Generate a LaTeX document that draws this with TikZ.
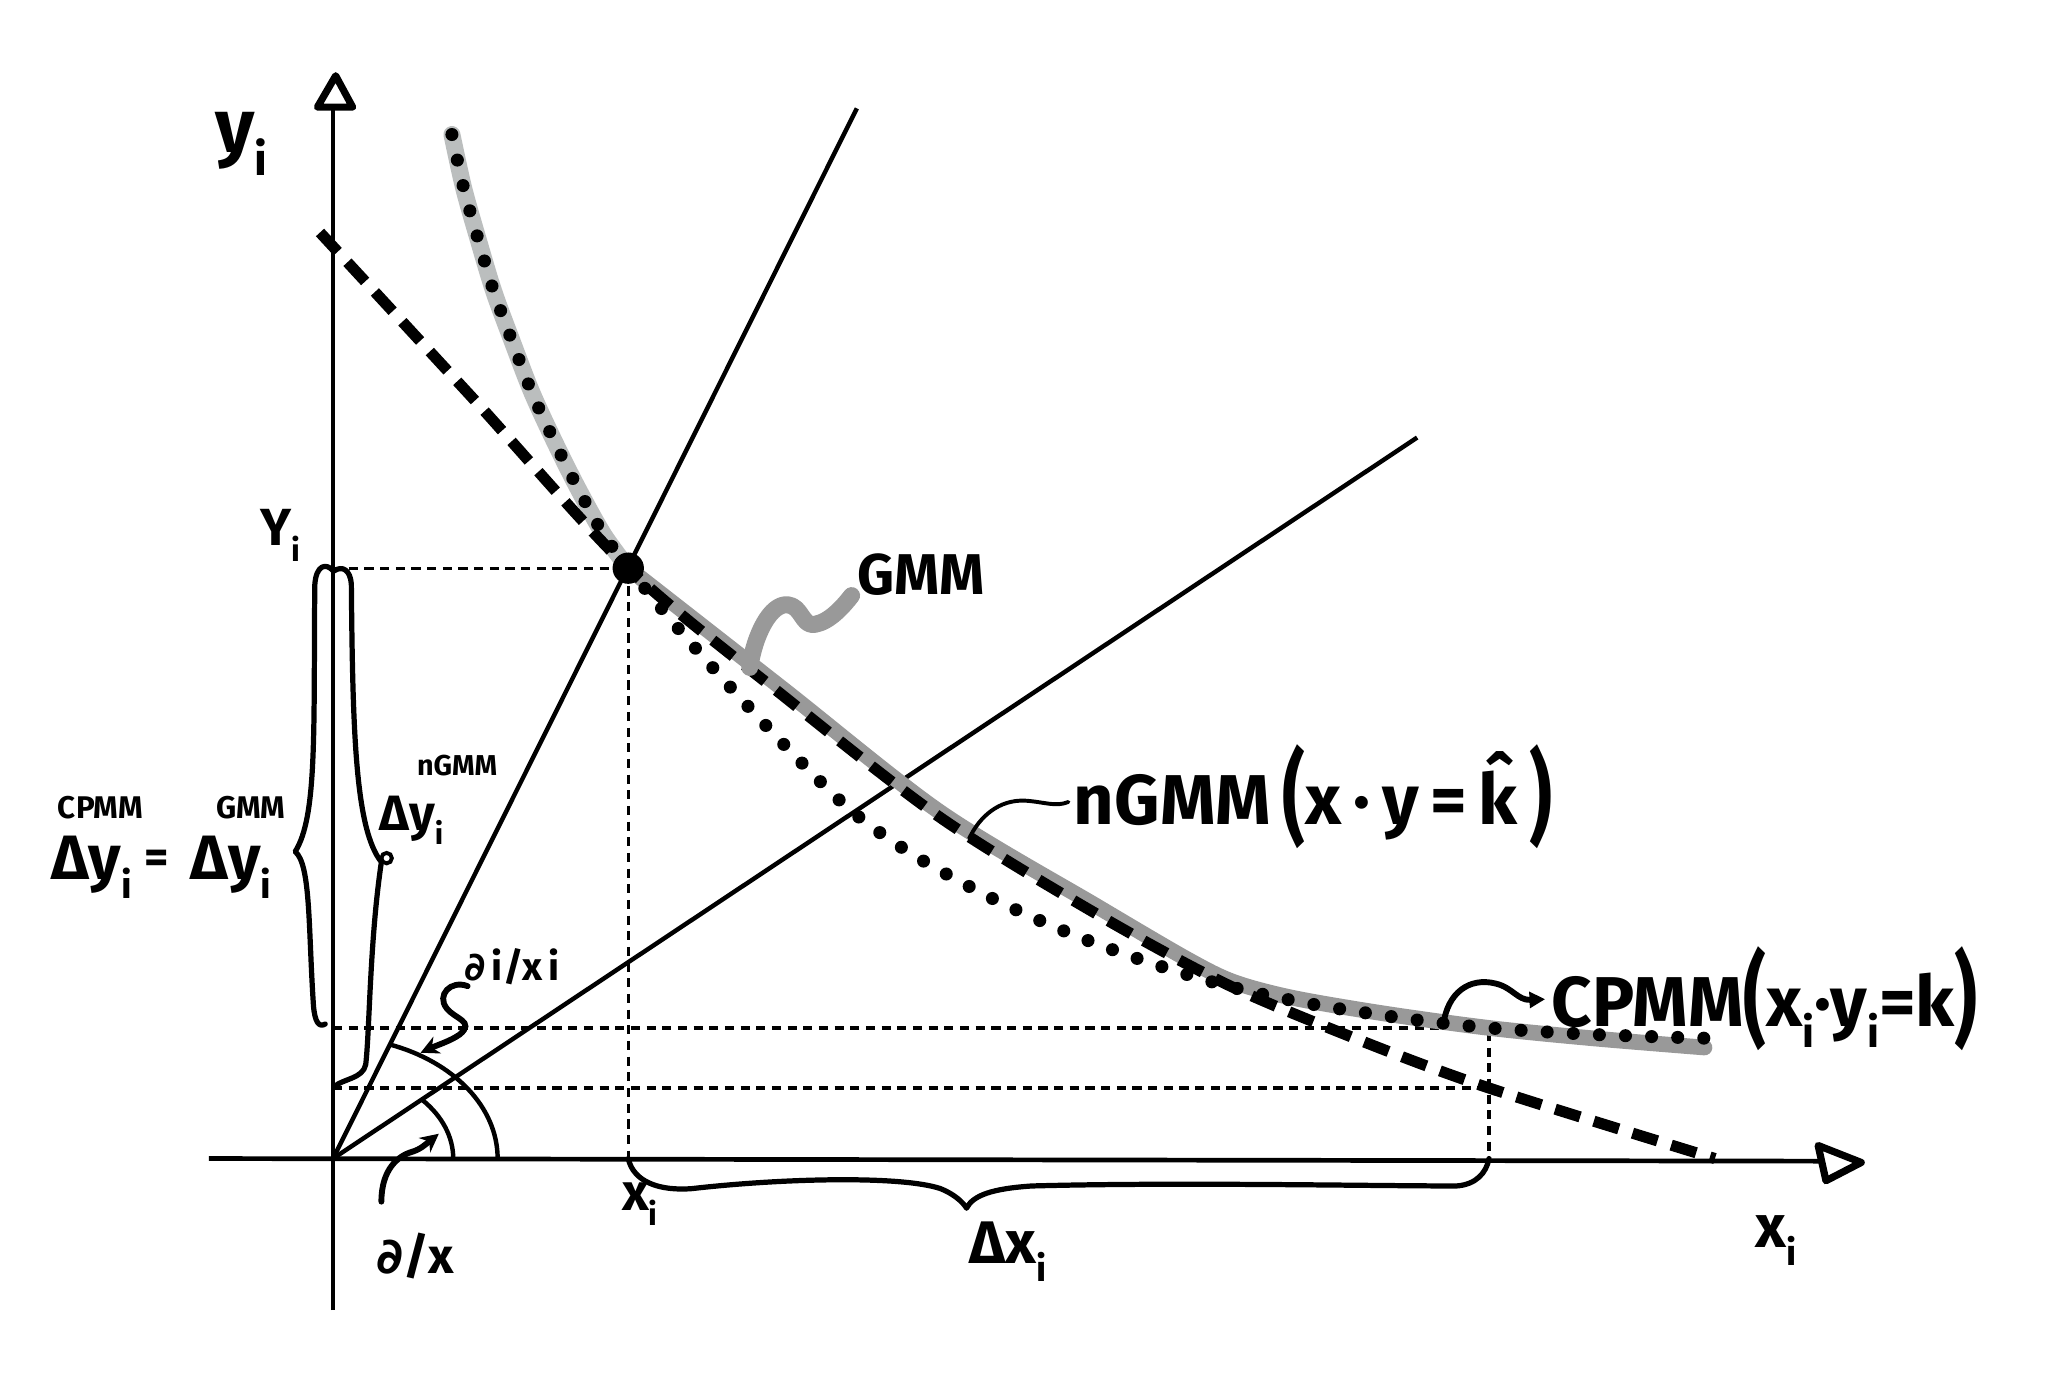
\documentclass[tikz,border=0pt]{standalone}
\usepackage{fontspec}
\setmainfont{Fira Sans}
\newfontfamily\symf{DejaVu Sans}
\usetikzlibrary{arrows.meta,calc}
\definecolor{lgray}{HTML}{BBBEBE}
\definecolor{dgray}{HTML}{999999}
\newcommand\mysub[1]{\raisebox{-0.3em}{\scalebox{0.6}{#1}}}
\newcommand\tallp[1]{\raisebox{-0.12em}{\scalebox{1}[1.45]{#1}}}
\newcommand\myfs[1]{\fontsize{#1}{#1}\selectfont}
\begin{document}
\begin{tikzpicture}[x=1pt,y=-1pt,
  axis/.style={line width=3.6pt},
  ray/.style={line width=3.4pt},
  guide/.style={line width=2.4pt, dash pattern=on 7pt off 5pt},
  nline/.style={line width=8.5pt, dash pattern=on 20pt off 11pt},
  dots/.style={line width=10pt, line cap=round, dash pattern=on 0pt off 20pt},
  band/.style={line width=13pt, line cap=round, line join=round},
  brace/.style={line width=4pt, line cap=round, line join=round},
  head/.style={line width=5.5pt, line join=round, line cap=round},
  lbl/.style={inner sep=0pt, font=\bfseries},
]
\fill[white] (0,0) rectangle (1568,1060);
\useasboundingbox (0,0) rectangle (1568,1060);
% key points
\coordinate (O) at (255,887);
\coordinate (P) at (481,435);
\coordinate (Ybot) at (255,1003);
\coordinate (Ytop) at (255,82);
\coordinate (Xl) at (160,887);
\coordinate (Xr) at (1393,889);
\coordinate (L1) at (656,83);
\coordinate (L2) at (1085,335);
\coordinate (YP) at (255,435);
\coordinate (XP) at (481,887);
\coordinate (C1) at (255,787);
\coordinate (C2) at (255,833);
\coordinate (Q1) at (1140,787);
\coordinate (Q2) at (1140,833);
\coordinate (XQ) at (1140,887);
% axes
\draw[axis] (Ybot) -- (Ytop);
\draw[head] (243,82) -- (257,58) -- (270,82) -- cycle;
\draw[axis] (Xl) -- (Xr);
\draw[head] (1392,877) -- (1425,890) -- (1398,904) -- cycle;
% rays
\draw[ray] (O) -- (L1);
\draw[ray] (O) -- (L2);
% guide lines
\draw[guide] (YP) -- (P) -- (XP);
\draw[guide] (C1) -- (Q1) -- (XQ);
\draw[guide] (C2) -- (Q2);
% highlighted GMM band
\draw[band, lgray] plot[smooth] coordinates {(346,103) (355,144) (366,183) (378,223) (392,261) (407,300) (424,337) (442,373) (462,409) (481,435)};
\draw[band, dgray, line width=12pt] plot[smooth] coordinates {(481,435) (600,528) (720,622) (840,694) (910,735) (945,752) (990,764) (1060,776) (1140,787) (1220,795) (1305,802)};
% nGMM dashed curve
\draw[nline] plot[smooth] coordinates {(245,178) (363,306) (481,435) (600,533) (720,626) (840,700) (940,754) (1040,796) (1140,833) (1313,887)};
% CPMM dotted curve
\draw[dots] plot[smooth] coordinates {(346,103) (355,144) (366,183) (378,223) (392,261) (407,300) (424,337) (442,373) (462,409) (481,435)};
\draw[dots] plot[smooth] coordinates {(481,435) (520,482) (560,527) (605,575) (652,621) (700,655) (760,688) (820,715) (880,737) (940,755) (1000,768) (1070,779) (1140,787) (1220,792) (1310,795)};
% point
\fill (P) circle (12);
% angle arcs
\draw[ray] ($(O)+(92,0)$) arc[start angle=0, end angle=-42, x radius=92, y radius=67];
\draw[ray] ($(O)+(126,0)$) arc[start angle=0, end angle=-70, x radius=126, y radius=93];
% braces
\draw[brace] (255,437) .. controls (250,431) and (242,432) .. (241,448) .. controls (240,560) and (243,625) .. (226,652) .. controls (238,662) and (236,710) .. (240,770) .. controls (241,782) and (244,787) .. (249,784);
\draw[brace] (256,437) .. controls (262,433) and (268,436) .. (269,447) .. controls (270,560) and (272,635) .. (292,660) .. controls (283,720) and (283,790) .. (280,815) .. controls (278,826) and (262,826) .. (256,832);
\draw[line width=3pt] (296,657) circle (4);
\draw[brace] (XP) .. controls (485,905) and (505,912) .. (530,910) .. controls (600,902) and (690,900) .. (720,910) .. controls (730,914) and (737,920) .. (740,925) .. controls (745,915) and (760,910) .. (790,908) .. controls (900,905) and (1050,908) .. (1115,908) .. controls (1130,907) and (1138,898) .. (XQ);
% labels
\node[lbl, font=\bfseries\myfs{58}] (lyi) at (185,110) {y\mysub{i}};
\node[lbl, font=\bfseries\myfs{46}] (lxi) at (1360,950) {x\mysub{i}};
\node[lbl, font=\bfseries\myfs{40}] (lYi) at (215,410) {Y\mysub{i}};
\node[lbl, font=\bfseries\myfs{40}] (lxP) at (490,922) {x\mysub{i}};
\node[lbl, font=\bfseries\myfs{46}] (ldx) at (772,958) {Δx\mysub{i}};
\node[lbl, font=\bfseries\myfs{48}] (ldyC) at (70,664) {Δy\mysub{i}};
\node[lbl, font=\bfseries\myfs{24}] (supC) at (77,618) {CPMM};
\node[lbl, font=\bfseries\myfs{36}] (leq) at (120,660) {=};
\node[lbl, font=\bfseries\myfs{48}] (ldyG) at (177,664) {Δy\mysub{i}};
\node[lbl, font=\bfseries\myfs{24}] (supG) at (192,618) {GMM};
\node[lbl, font=\bfseries\myfs{38}] (ldyN) at (315,628) {Δy\mysub{i}};
\node[lbl, font=\bfseries\myfs{22}] (supN) at (350,586) {nGMM};
\node[lbl, font=\bfseries\myfs{44}] (lGMM) at (705,440) {GMM};
\node[lbl, font=\bfseries\myfs{54}, anchor=west] (lnGMM) at (822,610) {nGMM\,\tallp{(}x\,·\,y\,=\,\^{k}\,\tallp{)}};
\node[lbl, font=\bfseries\myfs{54}, anchor=west] (lCPMM) at (1188,765) {CPMM\tallp{(}x\mysub{i}·y\mysub{i}=k\tallp{)}};
\node[lbl, font=\bfseries\myfs{38}] (lax) at (318,962) {{\symf ∂}/x};
\node[lbl, font=\bfseries\myfs{30}] (laix) at (392,740) {{\symf ∂}\,i/x\,i};
% connectors
\coordinate (gA) at (574,511);
\coordinate (gB) at (652,456);
\draw[band, dgray] (gA) .. controls (578,485) and (590,462) .. (603,463) .. controls (614,464) and (614,480) .. (624,478) .. controls (635,476) and (645,465) .. (gB);
\coordinate (nA) at (742,642);
\coordinate (nB) at (818,614);
\draw[line width=3pt, line cap=round] (nA) .. controls (750,625) and (765,612) .. (785,613) .. controls (800,614) and (808,618) .. (nB);
\coordinate (cA) at (1105,785);
\coordinate (cB) at (1183,765);
\draw[line width=4.5pt, line cap=round, -{Triangle[length=12pt,width=12pt]}] (cA) .. controls (1108,760) and (1125,748) .. (1145,753) .. controls (1158,756) and (1162,766) .. (cB);
\coordinate (aA) at (292,920);
\coordinate (aB) at (336,868);
\draw[line width=4.5pt, line cap=round, -{Stealth[length=14pt,width=14pt]}] (aA) .. controls (292,895) and (305,885) .. (315,882) .. controls (322,880) and (326,876) .. (aB);
\coordinate (sA) at (358,755);
\coordinate (sB) at (322,806);
\draw[line width=4.5pt, line cap=round, -{Stealth[length=14pt,width=14pt]}] (sA) .. controls (345,750) and (334,762) .. (342,772) .. controls (348,780) and (364,782) .. (352,792) .. controls (345,797) and (335,800) .. (sB);
\end{tikzpicture}
\end{document}
